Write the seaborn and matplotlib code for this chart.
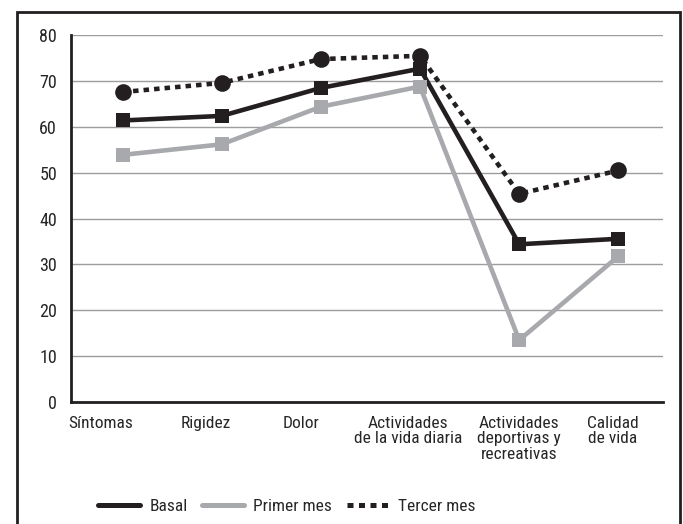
import pandas as pd
import numpy as np
import matplotlib
matplotlib.use("Agg")
import matplotlib.pyplot as plt
import seaborn as sns
from matplotlib import font_manager
from matplotlib.lines import Line2D
from matplotlib.patches import Rectangle
from matplotlib.transforms import ScaledTranslation

# === DATI ===
categorias = ["Síntomas", "Rigidez", "Dolor", "Actividades\nde la vida diaria",
              "Actividades\ndeportivas y\nrecreativas", "Calidad\nde vida"]
basal = [61.4, 62.4, 68.5, 72.7, 34.4, 35.6]
primer_mes = [53.9, 56.2, 64.4, 68.8, 13.5, 31.8]
tercer_mes = [67.6, 69.6, 74.8, 75.5, 45.4, 50.5]
y_ticks = [0, 10, 20, 30, 40, 50, 60, 70, 80]

df = pd.DataFrame({
    "pos": list(range(len(categorias))) * 3,
    "valor": basal + primer_mes + tercer_mes,
    "serie": ["Basal"] * 6 + ["Primer mes"] * 6 + ["Tercer mes"] * 6,
})

# === STILE ===
sns.set_style("white")

# cerca un font stretto
fonts = [(f.name, f.stretch) for f in font_manager.fontManager.ttflist]
nomi = {n for n, _ in fonts}
stretch = "normal"
if "Liberation Sans Narrow" in nomi:
    famiglia = "Liberation Sans Narrow"
elif "Roboto Condensed" in nomi:
    famiglia = "Roboto Condensed"
elif ("DejaVu Sans", "condensed") in fonts or ("DejaVu Sans", "semi-condensed") in fonts:
    famiglia = "DejaVu Sans"
    stretch = "condensed"
elif "Liberation Sans" in nomi:
    famiglia = "Liberation Sans"
else:
    famiglia = "DejaVu Sans"
plt.rcParams["font.family"] = [famiglia, "DejaVu Sans"]
plt.rcParams["font.stretch"] = stretch

NERO = "#231f20"
GRIGIO = "#a7a9ac"
stili = {
    "Basal": dict(color=NERO, marker="s", markersize=10.5, linestyle="-"),
    "Primer mes": dict(color=GRIGIO, marker="s", markersize=10.5, linestyle="-"),
    "Tercer mes": dict(color=NERO, marker="o", markersize=12, linestyle=(0, (1.2, 1.1))),
}

fig = plt.figure(figsize=(6.83, 5.24), dpi=100)
ax = fig.add_axes([71 / 683, 1 - 402 / 524, 592 / 683, 0.70])

for serie in ["Basal", "Primer mes", "Tercer mes"]:
    s = stili[serie]
    sns.lineplot(data=df[df["serie"] == serie], x="pos", y="valor", ax=ax,
                 color=s["color"], marker=s["marker"], markersize=s["markersize"],
                 markeredgewidth=0, linewidth=3.3, linestyle=s["linestyle"],
                 dash_capstyle="butt", legend=False)

ax.set_xlim(-0.52, 5.45)
ax.set_ylim(0, 80)
ax.set_yticks(y_ticks)
ax.set_xticks(range(len(categorias)))
ax.set_xticklabels(categorias, fontsize=12.5, linespacing=1.05, va="top")
ax.set_yticklabels([str(v) for v in y_ticks], fontsize=13)
ax.set_xlabel("")
ax.set_ylabel("")
ax.tick_params(axis="both", length=0)
ax.tick_params(axis="y", pad=10)
ax.tick_params(axis="x", pad=10)
ax.yaxis.grid(True, color="#9d9d9d", linewidth=1.0)
ax.set_axisbelow(True)
for lato in ["top", "right"]:
    ax.spines[lato].set_visible(False)
for lato in ["left", "bottom"]:
    ax.spines[lato].set_color(NERO)
    ax.spines[lato].set_linewidth(2.0)

# piccoli spostamenti delle etichette come nell'originale
spost_px = [-22, -16, -20, -12, 0, -6]
for lab, dx in zip(ax.get_xticklabels(), spost_px):
    lab.set_transform(lab.get_transform() + ScaledTranslation(dx / 100, 0, fig.dpi_scale_trans))

# legenda senza marcatori
maniglie = [Line2D([], [], color=stili[k]["color"], linestyle=stili[k]["linestyle"],
                   linewidth=3.6, dash_capstyle="butt") for k in stili]
fig.legend(maniglie, list(stili.keys()), loc="center", ncol=3, frameon=False,
           bbox_to_anchor=(0.42, 1 - 506 / 524), fontsize=12.5,
           handlelength=2.4, handletextpad=0.55, columnspacing=0.85)

# cornice esterna
fig.patches.append(Rectangle((17 / 683, -0.05), (680 - 17) / 683, 1.05 - 12 / 524,
                             transform=fig.transFigure, fill=False,
                             edgecolor=NERO, linewidth=2.0))

fig.savefig("out.png", dpi=100)
